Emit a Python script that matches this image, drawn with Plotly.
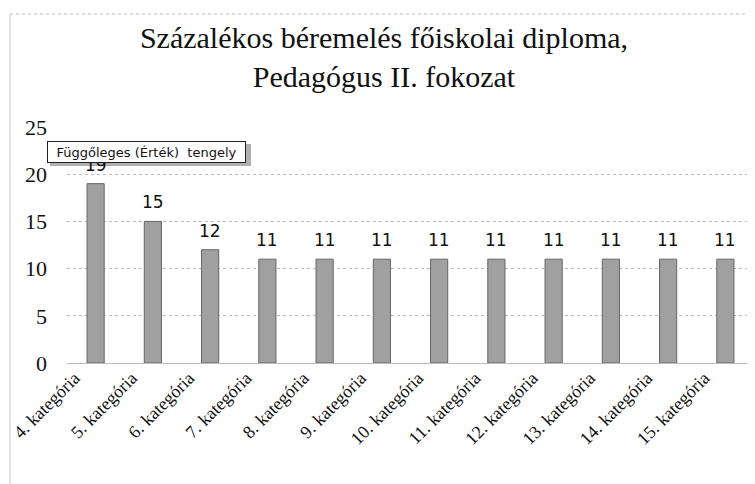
import plotly.graph_objects as go

categories = ["4. kategória", "5. kategória", "6. kategória", "7. kategória",
              "8. kategória", "9. kategória", "10. kategória", "11. kategória",
              "12. kategória", "13. kategória", "14. kategória", "15. kategória"]
values = [19, 15, 12, 11, 11, 11, 11, 11, 11, 11, 11, 11]
y_ticks = [0, 5, 10, 15, 20, 25]

# page body has an 8px margin; figure sized to fit the 755x484 window
OFF = 8
W, H = 755 - OFF, 484 - OFF
L, R, T, B = 67 - OFF, 1, 127 - OFF, 121
pw, ph = W - L - R, H - T - B

def px(x):  # screen x -> paper
    return (x - OFF - L) / pw

def py(y):  # screen y -> paper
    return (H - B - (y - OFF)) / ph

fig = go.Figure()
fig.add_trace(go.Bar(
    x=categories, y=values,
    marker=dict(color="#a0a0a0", line=dict(color="#666666", width=1)),
    width=0.3,
))

shapes = [
    dict(type="line", xref="paper", yref="paper", x0=px(10), x1=px(755), y0=py(14), y1=py(14),
         line=dict(color="#bbbbbb", width=1, dash="dot")),
    dict(type="line", xref="paper", yref="paper", x0=px(10), x1=px(10), y0=py(14), y1=py(484),
         line=dict(color="#c8c8c8", width=1)),
    dict(type="rect", xref="paper", yref="paper", x0=px(50), x1=px(251), y0=py(166), y1=py(144),
         fillcolor="#b0b0b0", line=dict(width=0), layer="below"),
]

annotations = [dict(x=c, y=v, text=str(v), xref="x", yref="y", showarrow=False,
                    yanchor="bottom", yshift=7,
                    font=dict(family="DejaVu Sans", size=17, color="#111"))
               for c, v in zip(categories, values)]
annotations.append(dict(text="Függőleges (Érték)  tengely", xref="paper", yref="paper",
                        x=px(47), y=py(152), xanchor="left", yanchor="middle", showarrow=False,
                        width=193, height=16,
                        font=dict(family="DejaVu Sans", size=13, color="#111"),
                        bgcolor="white", bordercolor="#222", borderwidth=1, borderpad=2))

fig.update_layout(
    width=W, height=H,
    margin=dict(l=L, r=R, t=T, b=B),
    paper_bgcolor="white", plot_bgcolor="white",
    showlegend=False,
    title=dict(text="Százalékos béremelés főiskolai diploma,<br>Pedagógus II. fokozat",
               xref="container", x=(384 - OFF) / W, xanchor="center",
               yref="container", y=1 - (48 - OFF) / H, yanchor="middle",
               font=dict(family="Liberation Serif", size=30, color="#111")),
    xaxis=dict(showgrid=False, tickangle=-45, ticklabelshift=-21, automargin=False,
               tickfont=dict(family="Liberation Serif", size=18, color="#111"),
               showline=False, ticks=""),
    yaxis=dict(range=[0, 25], tickvals=y_ticks, showgrid=True, gridcolor="#bcbcbc",
               griddash="dot", zeroline=True, zerolinecolor="#bcbcbc", zerolinewidth=1,
               automargin=False,
               tickfont=dict(family="Liberation Serif", size=22, color="#111"),
               ticklabelstandoff=19),
    bargap=0.7,
    shapes=shapes,
    annotations=annotations,
)

fig.write_html("out.html")
